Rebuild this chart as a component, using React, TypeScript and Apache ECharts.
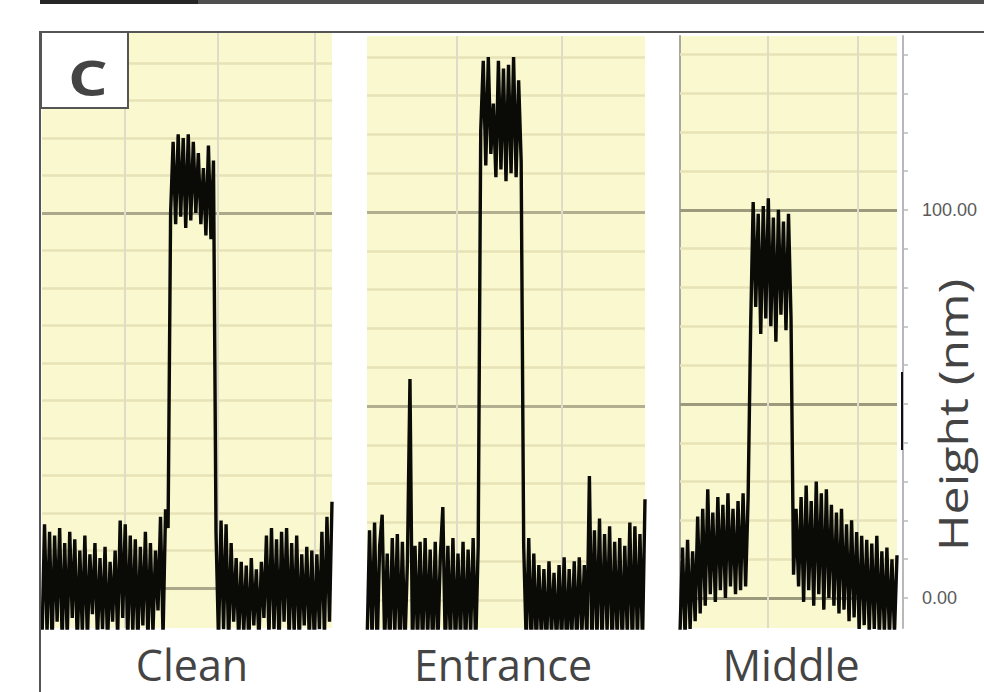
import React, { useEffect, useRef } from "react";
import * as echarts from "echarts";

// ---------- DATA (heights in nm; x = sample index) ----------
const panelNames = ["Clean", "Entrance", "Middle"];

// Clean profile
const cleanLeft = [-14, 17, -12, 15, -15, 14, -9, 16, -14, 12, -13, 15, -8, 13, -15, 10, -12, 14, -14, 9,
  -7, 12, -14, 8, -11, 11, -15, 7, -9, 10, -13, 18, -8, 17, -14, 14, -12, 13, -15, 11, -10, 15, -14, 12,
  -12, 10, -6, 19, -13, 21, 16];
const cleanTop = [100, 119, 97, 121, 99, 120, 96, 121, 98, 119, 100, 116, 97, 112, 94, 118, 93, 114];
const cleanRight = [15, -14, 18, -11, 17, -15, 12, -9, 8, -14, 7, -12, 6, -15, 8, -10, 5, -14, 7, -8, 14,
  -13, 16, -11, 13, -15, 15, -9, 16, -14, 12, -12, 14, -15, 9, -10, 11, -14, 10, -15, 9, -11, 15, -13, 19,
  -9, 23];

// Entrance profile
const entranceLeft = [-12, 18, -10, 20, -13, 14, 22, -11, 12, -13, 16, -9, 17, -13, 15, -12, 10, 57, -13,
  14, -11, 15, -13, 16, -10, 13, -13, 15, -12, 11, 24, -13, 14, -11, 16, -13, 12, -10, 15, -13, 13, -9, 16,
  -12, 14];
const entranceTop = [121, 139, 112, 140, 115, 128, 109, 139, 111, 137, 108, 138, 110, 140, 109, 134, 113];
const entranceRight = [14, -11, 16, -13, 12, -12, 9, -10, 8, -13, 10, -9, 7, -12, 9, -11, 11, -13, 8, -10,
  10, -12, 11, -9, 9, -11, 32, -13, 18, -10, 21, -12, 17, -8, 19, -13, 15, -10, 16, -12, 14, -9, 20, -13, 19,
  -10, 17, -11, 26];

// Middle profile
const middleLeft = [-9, 13, -10, 15, -8, 12, -6, 21, -4, 23, -2, 28, 1, 22, -1, 26, 2, 24, 0, 27, 3, 23, 1,
  25, 2, 27, 3, 26];
const middleTop = [70, 102, 75, 99, 68, 101, 72, 103, 70, 98, 66, 100, 73, 97, 69, 99, 72];
const middleRight = [6, 23, 3, 26, -1, 29, 2, 25, -2, 30, 1, 27, -3, 28, 0, 24, -2, 22, -4, 23, -3, 19, -6,
  20, -5, 17, -8, 16, -7, 15, -9, 14, -8, 16, -10, 12, -9, 13, -10, 10, -9, 11];

const cleanHeights = [...cleanLeft, ...cleanTop, ...cleanRight];
const entranceHeights = [...entranceLeft, ...entranceTop, ...entranceRight];
const middleHeights = [...middleLeft, ...middleTop, ...middleRight];
const profiles = [cleanHeights, entranceHeights, middleHeights];

// Grid lines (data units)
const hGridValues = [0, 10, 20, 30, 40, 50, 60, 70, 80, 90, 100, 110, 120, 130, 140];
const hMajor = [[0, 100], [50, 100], [0, 50, 100]];
const vGridValues = [[32.9, 69.8, 108.3], [35.6, 77.2], [34.9, 70.5]];
const yRanges = [[-10.67, 148], [-7.2, 145.4], [-7.73, 144.8]];
const axisTickValues = hGridValues;
const axisLabelValues = [0, 100];

export default function App() {
  const ref = useRef<HTMLDivElement>(null);
  useEffect(() => {
    document.body.style.margin = "0";
    const chart = echarts.init(ref.current!, undefined, { renderer: "svg" });
    const grids = [
      { left: 42, top: 33, width: 290, height: 595 },
      { left: 367, top: 36, width: 278, height: 592 },
      { left: 680, top: 36, width: 217, height: 592 },
    ].map((g) => ({ ...g, show: true, backgroundColor: "#faf8cf", borderWidth: 0 }));

    const majorColors = ["#aba78a", "#b2ae90", "#9c9a7c"];

    const gridSeries = profiles.map((p, k) => ({
      type: "line",
      xAxisIndex: k,
      yAxisIndex: k,
      data: [],
      z: 1,
      silent: true,
      markLine: {
        symbol: "none",
        silent: true,
        animation: false,
        label: { show: false },
        data: [
          ...hGridValues.map((v) => ({
            yAxis: v,
            lineStyle: hMajor[k].includes(v)
              ? { color: majorColors[k], width: 3, type: "solid" }
              : { color: "#e7e3b7", width: 2.5, type: "solid" },
          })),
          ...vGridValues[k].map((v) => ({
            xAxis: v,
            lineStyle: { color: "#dedcc8", width: 2, type: "solid" },
          })),
        ],
      },
    }));

    const dataSeries = profiles.map((p, k) => ({
      type: "line",
      name: panelNames[k],
      xAxisIndex: k,
      yAxisIndex: k,
      data: p.map((v, i) => [i, v]),
      symbol: "none",
      showSymbol: false,
      z: 5,
      lineStyle: { color: "#0a0a06", width: 3.4, join: "miter", miterLimit: 2 },
    }));

    const option: any = {
      animation: false,
      grid: grids,
      xAxis: profiles.map((p, k) => ({
        type: "value",
        gridIndex: k,
        min: 0,
        max: p.length - 1,
        show: false,
      })),
      yAxis: [
        { type: "value", gridIndex: 0, min: yRanges[0][0], max: yRanges[0][1], show: false },
        { type: "value", gridIndex: 1, min: yRanges[1][0], max: yRanges[1][1], show: false },
        {
          type: "value",
          gridIndex: 2,
          min: yRanges[2][0],
          max: yRanges[2][1],
          position: "right",
          offset: 6,
          axisLine: { show: true, onZero: false, lineStyle: { color: "#b8b8b8", width: 2 } },
          axisTick: {
            show: true,
            customValues: axisTickValues,
            length: 5,
            lineStyle: { color: "#b8b8b8", width: 1.5 },
          },
          axisLabel: {
            show: true,
            customValues: axisLabelValues,
            formatter: (v: number) => v.toFixed(2),
            color: "#5a5a5a",
            fontSize: 18,
            fontFamily: "Liberation Sans",
            margin: 19,
          },
          splitLine: { show: false },
        },
        {
          type: "value",
          gridIndex: 2,
          min: yRanges[2][0],
          max: yRanges[2][1],
          position: "left",
          axisLine: { show: true, onZero: false, lineStyle: { color: "#a8a8a0", width: 2 } },
          axisTick: { show: false },
          axisLabel: { show: false },
          splitLine: { show: false },
        },
      ],
      series: [...gridSeries, ...dataSeries],
      graphic: [
        { type: "rect", z: 100, shape: { x: 40, y: 0, width: 944, height: 4 }, style: { fill: "#4f4f4f" } },
        { type: "rect", z: 101, shape: { x: 40, y: 0, width: 158, height: 4 }, style: { fill: "#262626" } },
        { type: "line", z: 100, shape: { x1: 40, y1: 32, x2: 984, y2: 32 }, style: { stroke: "#555", lineWidth: 2 } },
        { type: "line", z: 100, shape: { x1: 40, y1: 31, x2: 40, y2: 692 }, style: { stroke: "#555", lineWidth: 2 } },
        {
          type: "rect",
          z: 100,
          shape: { x: 41, y: 32, width: 87, height: 76 },
          style: { fill: "#ffffff", stroke: "#555", lineWidth: 2 },
        },
        {
          type: "text",
          z: 102,
          x: 88,
          y: 77,
          scaleX: 1.3,
          style: {
            text: "C",
            fill: "#444",
            fontSize: 48,
            fontWeight: "bold",
            fontFamily: "Open Sans",
            align: "center",
            verticalAlign: "middle",
          },
        },
        { type: "rect", z: 100, shape: { x: 901, y: 372, width: 2, height: 78 }, style: { fill: "#111" } },
        ...panelNames.map((name, k) => ({
          type: "text",
          z: 100,
          x: [192, 503, 791][k],
          y: 664,
          style: {
            text: name,
            fill: "#444",
            fontSize: 43,
            fontFamily: "Open Sans",
            align: "center",
            verticalAlign: "middle",
          },
        })),
        {
          type: "text",
          z: 100,
          x: 953,
          y: 415,
          rotation: Math.PI / 2,
          scaleX: 1.25,
          style: {
            text: "Height (nm)",
            fill: "#444",
            fontSize: 40,
            fontFamily: "Open Sans",
            align: "center",
            verticalAlign: "middle",
          },
        },
      ],
    };
    chart.setOption(option);
    return () => chart.dispose();
  }, []);
  return <div ref={ref} style={{ position: "absolute", left: 0, top: 0, width: 984, height: 692 }} />;
}
